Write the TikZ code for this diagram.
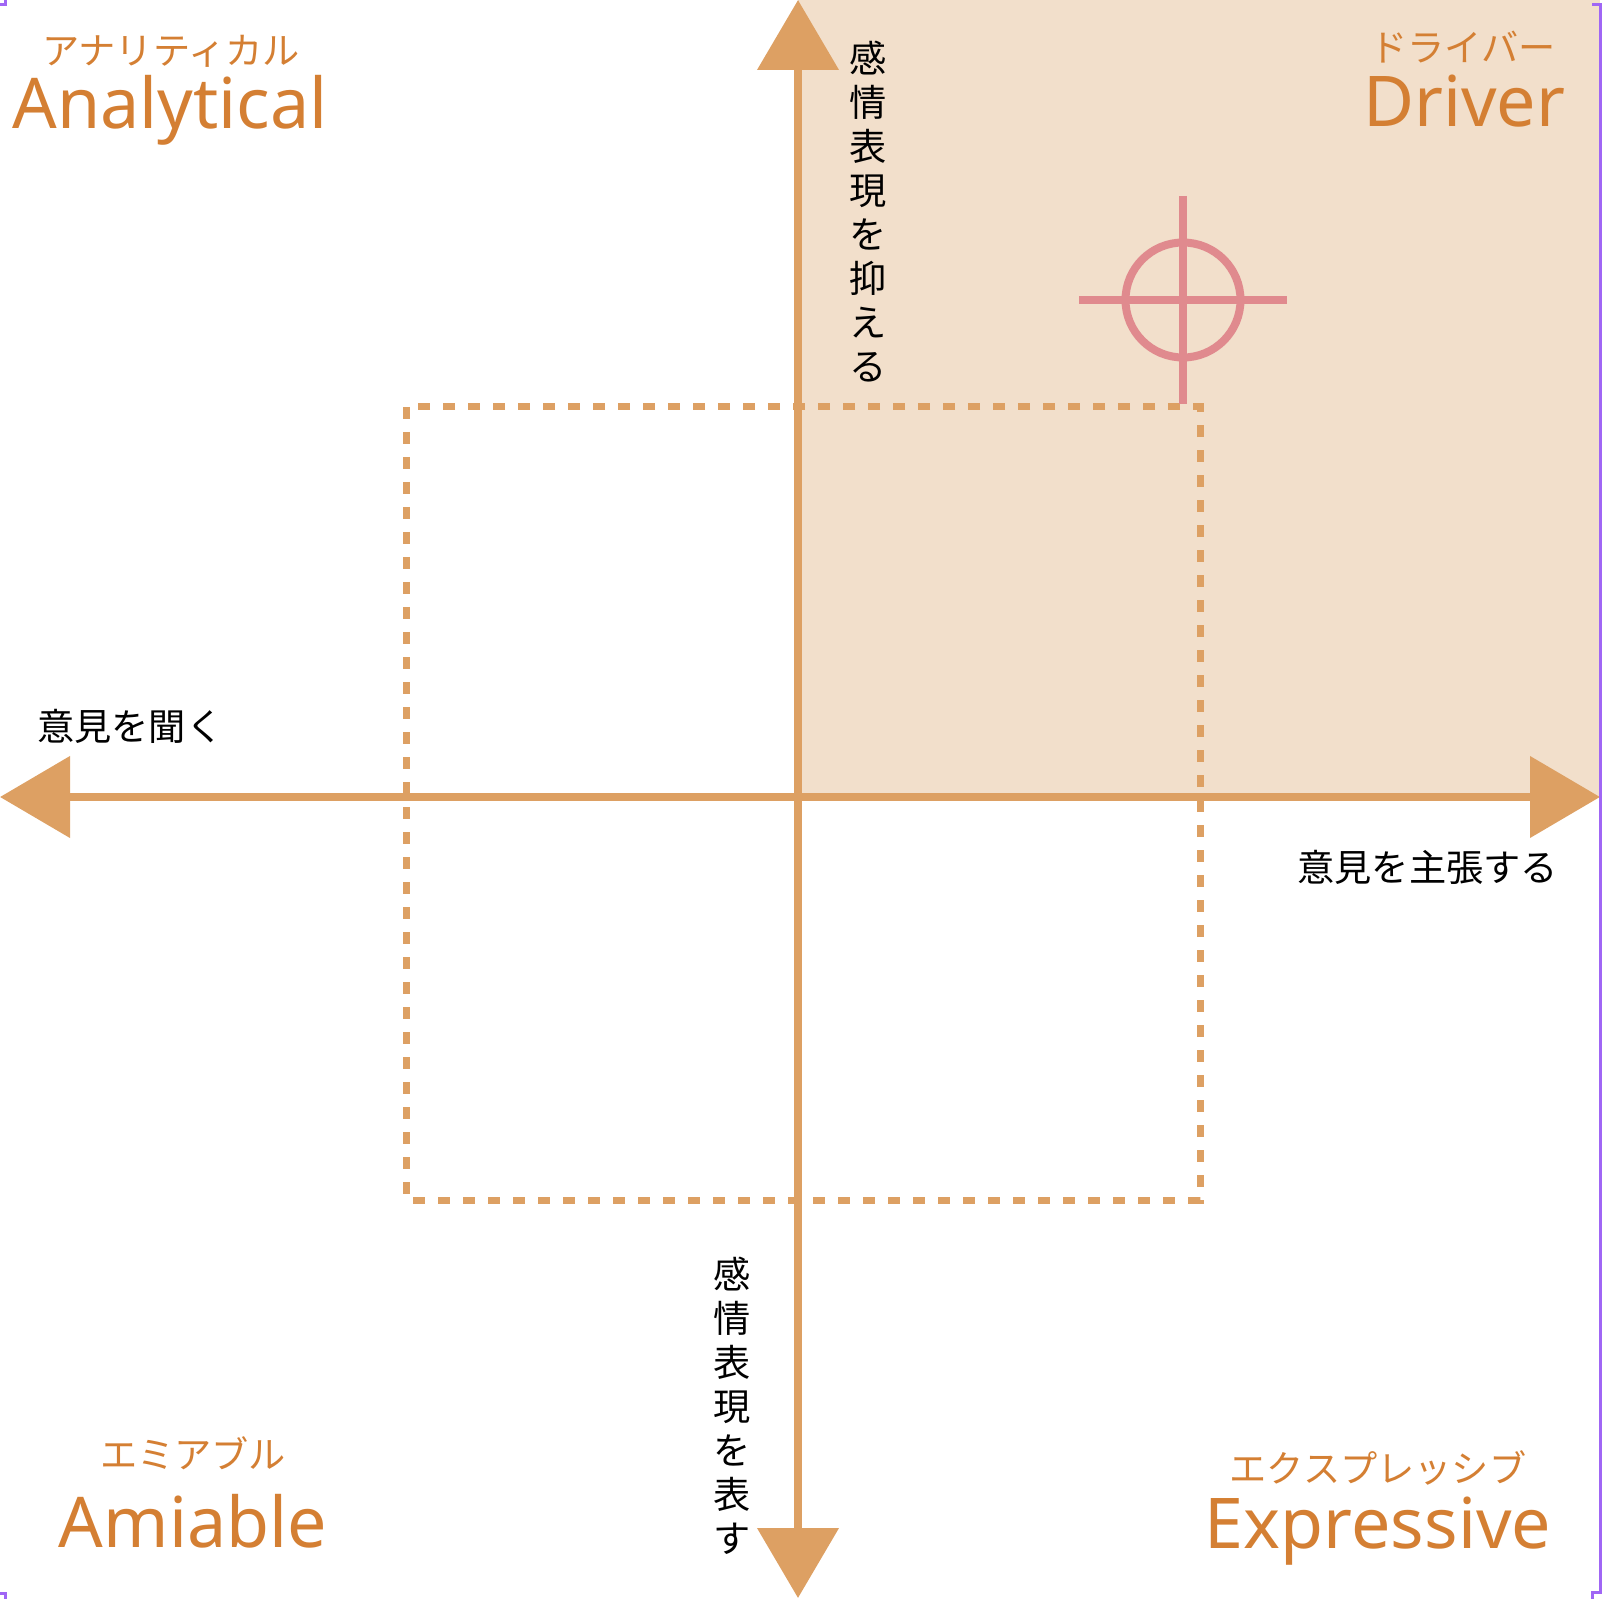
\documentclass[tikz,border=0pt]{standalone}
\usepackage{fontspec}
\setmainfont{Noto Sans}
\newfontfamily\jpfont{Noto Sans CJK JP}
\usepackage{tikz}
\usetikzlibrary{arrows.meta}

\definecolor{axistan}{HTML}{DDA063}
\definecolor{labelorange}{HTML}{D47F33}
\definecolor{quadfill}{HTML}{F2DFCB}
\definecolor{targetpink}{HTML}{E08A8E}
\definecolor{framepurple}{HTML}{A066F5}

\tikzset{
  axis/.style={axistan,line width=4pt,
    {Triangle[length=35pt,width=40pt]}-{Triangle[length=35pt,width=40pt]}},
  dashbox/.style={axistan,line width=3.5pt,dash pattern=on 6.2pt off 6.3pt},
  target/.style={targetpink,line width=4pt},
  typename/.style={anchor=base,inner sep=0pt,labelorange,font=\fontsize{35pt}{40pt}\selectfont},
  kana/.style={anchor=base,inner sep=0pt,labelorange,font=\jpfont\fontsize{18.6pt}{21pt}\selectfont},
  axislabel/.style={inner sep=0pt,font=\jpfont\fontsize{18.6pt}{22pt}\selectfont},
  vlabel/.style={axislabel,align=center},
}

\begin{document}
\begin{tikzpicture}[x=0.5pt,y=-0.5pt,line join=miter]
  \useasboundingbox (0,0) rectangle (1602,1599);
  % quadrant shading
  \fill[quadfill] (798,0) rectangle (1600,797);
  % dashed box
  \draw[dashbox] (406,407) rectangle (1200,1200);
  % axes
  \coordinate (W) at (0,797);
  \coordinate (E) at (1600,797);
  \coordinate (N) at (798,0);
  \coordinate (S) at (798,1598);
  \draw[axis] (W) -- (E);
  \draw[axis] (S) -- (N);
  % target mark
  \coordinate (aim) at (1183,300);
  \draw[target] (aim) circle[radius=57.5];
  \draw[target] (aim) ++(-104,0) -- ++(208,0);
  \draw[target] (aim) ++(0,-104) -- ++(0,208);
  % type names
  \node[kana] (analytical-kana) at (171,65) {アナリティカル};
  \node[kana] (driver-kana) at (1463,62) {ドライバー};
  \node[kana] (amiable-kana) at (193,1468) {エミアブル};
  \node[kana] (expressive-kana) at (1378,1482) {エクスプレッシブ};
  \node[typename] (analytical) at (170,129) {Analytical};
  \node[typename] (driver) at (1464,127) {Driver};
  \node[typename] (amiable) at (193,1547) {Amiable};
  \node[typename] (expressive) at (1378,1548) {Expressive};
  % axis labels
  \node[axislabel,anchor=base west] (listen) at (37,740) {意見を聞く};
  \node[axislabel,anchor=base west] (assert) at (1297,881) {意見を主張する};
  \node[vlabel] (restrain) at (868,212) {感\\情\\表\\現\\を\\抑\\え\\る};
  \node[vlabel] (express) at (732,1406) {感\\情\\表\\現\\を\\表\\す};
  % selection frame
  \draw[framepurple,line width=1.5pt] (1592,5) -- (1600,5) -- (1600,1592) -- (1592,1592) -- (1592,1599);
  \draw[framepurple,line width=1.5pt] (0,5) -- (5,5) -- (5,0);
  \draw[framepurple,line width=1.5pt] (0,1593) -- (5,1593) -- (5,1599);
\end{tikzpicture}
\end{document}
